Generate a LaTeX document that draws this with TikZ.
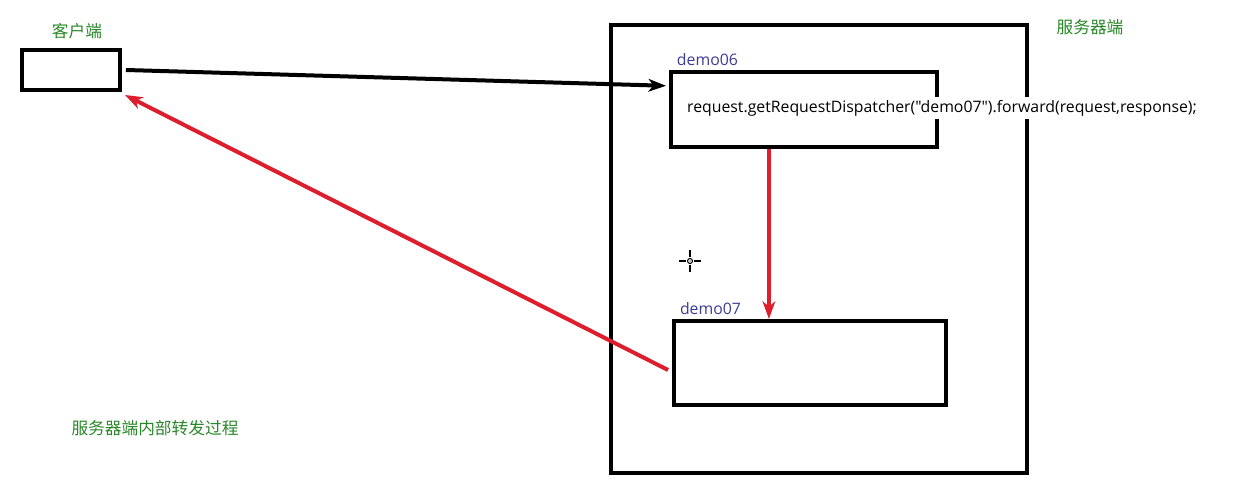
\documentclass[tikz,border=0pt]{standalone}
\usepackage{fontspec}
\setmainfont{Noto Sans CJK SC}
\newfontfamily\codefont{Open Sans}
\usepackage{tikz}
\usetikzlibrary{positioning,arrows.meta,calc}
\definecolor{labelgreen}{RGB}{40,135,40}
\definecolor{demoblue}{RGB}{60,60,150}
\definecolor{fwdred}{RGB}{220,30,45}
\tikzset{
  box/.style={
    draw=black,
    line width=0.08cm,
    inner sep=0pt
  },
  zone label/.style={
    text=labelgreen,
    font=\fontsize{9.5}{11}\selectfont
  },
  demo label/.style={
    text=demoblue,
    font=\codefont\fontsize{9}{11}\selectfont
  },
  code/.style={
    fill=white,
    inner sep=1.5pt,
    font=\codefont\fontsize{9}{11}\selectfont
  },
  arrow/.style={
    line width=0.08cm,
    -{Stealth[length=0.35cm,width=0.25cm,inset=0.1cm]}
  }
}
\begin{document}
\begin{tikzpicture}[x=0.02cm, y=-0.02cm]
  \useasboundingbox (0,0) rectangle (1234,502);

  % Client side
  \node[box, minimum width=1.96cm, minimum height=0.8cm] (client) at (71,70) {};
  \node[zone label] (clientlbl) at (77,31) {客户端};

  % Server side
  \node[box, minimum width=8.32cm, minimum height=8.96cm] (server) at (819,249) {};
  \node[zone label] (serverlbl) at (1090,27) {服务器端};

  % Servlets
  \node[box, minimum width=5.32cm, minimum height=1.5cm] (demo06) at (804,109.5) {};
  \node[demo label, above=-1pt of demo06.north west, anchor=south west, xshift=1pt] (lbl06) {demo06};
  \node[box, minimum width=5.44cm, minimum height=1.68cm] (demo07) at (810,363) {};
  \node[demo label, above=-1pt of demo07.north west, anchor=south west, xshift=1pt] (lbl07) {demo07};

  % Forward call
  \node[code] (call) at (942,108) {request.getRequestDispatcher(\symbol{34}demo07\symbol{34}).forward(request,response);};

  % Caption
  \node[zone label] (caption) at (155,428) {服务器端内部转发过程};

  % Mouse cursor
  \coordinate (cursor) at (690,261);
  \draw[line width=0.6pt] (cursor) circle (2.5);
  \draw[line width=0.6pt] ($(cursor)+(-11,0)$) -- ($(cursor)+(-4,0)$)
    ($(cursor)+(4,0)$) -- ($(cursor)+(11,0)$)
    ($(cursor)+(0,-11)$) -- ($(cursor)+(0,-4)$)
    ($(cursor)+(0,4)$) -- ($(cursor)+(0,11)$);
  \fill (cursor) circle (0.7);

  % Request from client
  \draw[arrow, black] ($(client.east)+(4,0)$) -- ($(demo06.north west)!0.2!(demo06.south west)+(-3,0)$);

  % Forward inside server
  \coordinate (fwd) at ($(demo06.south west)!0.37!(demo06.south east)$);
  \draw[arrow, fwdred] (fwd) -- (fwd |- demo07.north);

  % Response back to client
  \draw[arrow, fwdred] ($(demo07.west)+(-4,7)$) -- ($(client.south east)+(3,3)$);

\end{tikzpicture}
\end{document}
